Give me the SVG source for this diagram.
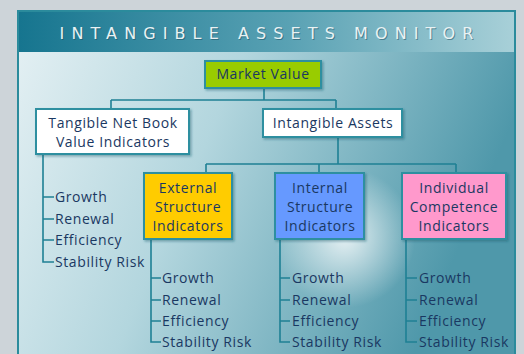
<svg xmlns="http://www.w3.org/2000/svg" width="524" height="354" viewBox="0 0 524 354">
<defs>
<linearGradient id="hdr" x1="0" y1="0" x2="1" y2="0">
<stop offset="0" stop-color="#16758f"/><stop offset="0.55" stop-color="#5aa2b4"/><stop offset="1" stop-color="#a8d0d8"/>
</linearGradient>
<linearGradient id="body" x1="0" y1="0" x2="1" y2="0.3">
<stop offset="0" stop-color="#e6f1f4"/><stop offset="0.45" stop-color="#b3d6de"/><stop offset="1" stop-color="#4f98aa"/>
</linearGradient>
<radialGradient id="flare" cx="345" cy="238" r="70" gradientUnits="userSpaceOnUse">
<stop offset="0" stop-color="#ffffff" stop-opacity="0.8"/><stop offset="1" stop-color="#ffffff" stop-opacity="0"/>
</radialGradient>
<filter id="sh" x="-10%" y="-10%" width="130%" height="140%"><feDropShadow dx="1.5" dy="1.5" stdDeviation="1" flood-color="#1a5a6a" flood-opacity="0.45"/></filter>
</defs>
<style>
.box{stroke:#2f8fa0;stroke-width:2;filter:url(#sh)}
.t{font-family:"Open Sans","DejaVu Sans",sans-serif;font-size:14px;letter-spacing:0.6px;fill:#1a3862;text-anchor:middle}
.li{font-family:"Open Sans","DejaVu Sans",sans-serif;font-size:14px;letter-spacing:0.6px;fill:#1a3862}
.c{stroke:#1f8094;stroke-width:1.6;fill:none}
</style>
<rect width="524" height="354" fill="#cdd4d9"/>
<rect x="18" y="11" width="497" height="350" fill="url(#body)" stroke="#2b8b9c" stroke-width="2"/>
<rect x="18" y="11" width="497" height="350" fill="url(#flare)"/>
<rect x="19" y="12" width="495" height="40" fill="url(#hdr)"/>
<text x="270" y="39" font-family="'DejaVu Sans',sans-serif" font-size="16" letter-spacing="7.1" fill="#1a4a5a" fill-opacity="0.5" text-anchor="middle" transform="translate(1,1)">INTANGIBLE  ASSETS  MONITOR</text>
<text x="270" y="39" font-family="'DejaVu Sans',sans-serif" font-size="16" letter-spacing="7.1" fill="#e8f2f4" text-anchor="middle">INTANGIBLE  ASSETS  MONITOR</text>
<g id="connectors">
<path class="c" d="M264 88V100M111 100H336M111 100V109M336 100V109"/>
<path class="c" d="M338 137V164M206 164H456M206 164V173M319 164V173M456 164V173"/>
<path class="c" d="M43 154V262H54M43 197H54M43 219H54M43 240H54"/>
<path class="c" d="M151 239V342H161M151 278H161M151 300H161M151 321H161"/>
<path class="c" d="M280 239V342H290M280 278H290M280 300H290M280 321H290"/>
<path class="c" d="M406 239V342H417M406 278H417M406 300H417M406 321H417"/>
</g>
<g id="market-value">
<rect class="box" x="205" y="61" width="116" height="27" fill="#99cc00"/>
<text class="t" x="263" y="79">Market Value</text>
</g>
<g id="tangible">
<rect class="box" x="36" y="109" width="153" height="45" fill="#ffffff"/>
<text class="t" x="113" y="128">Tangible Net Book</text>
<text class="t" x="113" y="147">Value Indicators</text>
</g>
<g id="intangible">
<rect class="box" x="263" y="109" width="139" height="28" fill="#ffffff"/>
<text class="t" x="333" y="128">Intangible Assets</text>
</g>
<g id="external">
<rect class="box" x="144" y="173" width="88" height="66" fill="#ffcc00"/>
<text class="t" x="188" y="193">External</text>
<text class="t" x="188" y="212">Structure</text>
<text class="t" x="188" y="231">Indicators</text>
</g>
<g id="internal">
<rect class="box" x="275" y="173" width="89" height="66" fill="#6699ff"/>
<text class="t" x="320" y="193">Internal</text>
<text class="t" x="320" y="212">Structure</text>
<text class="t" x="320" y="231">Indicators</text>
</g>
<g id="individual">
<rect class="box" x="402" y="173" width="104" height="66" fill="#ff99cc"/>
<text class="t" x="454" y="193">Individual</text>
<text class="t" x="454" y="212">Competence</text>
<text class="t" x="454" y="231">Indicators</text>
</g>
<g id="tangible-list">
<text class="li" x="55" y="202">Growth</text>
<text class="li" x="55" y="224">Renewal</text>
<text class="li" x="55" y="245">Efficiency</text>
<text class="li" x="55" y="267">Stability Risk</text>
</g>
<g id="external-list">
<text class="li" x="162" y="283">Growth</text>
<text class="li" x="162" y="305">Renewal</text>
<text class="li" x="162" y="326">Efficiency</text>
<text class="li" x="162" y="347">Stability Risk</text>
</g>
<g id="internal-list">
<text class="li" x="292" y="283">Growth</text>
<text class="li" x="292" y="305">Renewal</text>
<text class="li" x="292" y="326">Efficiency</text>
<text class="li" x="292" y="347">Stability Risk</text>
</g>
<g id="individual-list">
<text class="li" x="419" y="283">Growth</text>
<text class="li" x="419" y="305">Renewal</text>
<text class="li" x="419" y="326">Efficiency</text>
<text class="li" x="419" y="347">Stability Risk</text>
</g>
</svg>
